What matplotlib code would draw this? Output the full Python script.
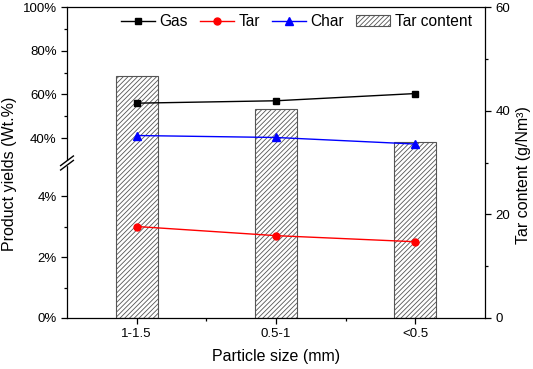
import numpy as np
import matplotlib
matplotlib.use("Agg")
import matplotlib.pyplot as plt
from matplotlib.lines import Line2D
from matplotlib.patches import Patch
from matplotlib.ticker import FixedLocator

plt.rcParams['font.family'] = ['Liberation Sans', 'DejaVu Sans']
plt.rcParams['hatch.linewidth'] = 0.6

# data
sizes = ['1-1.5', '0.5-1', '<0.5']
gas = [56.0, 57.1, 60.4]      # wt.%
char = [41.2, 40.3, 37.3]     # wt.%
tar = [3.0, 2.7, 2.5]         # wt.%
tar_content = [46.6, 40.3, 34.0]  # g/Nm3

x = np.arange(1, len(sizes) + 1)

fig = plt.figure(figsize=(5.33, 3.69), dpi=100)
W, H = 533, 369
L, R, T, B = 67, 485, 7, 318
def fa(l, r, t, b):
    return [l / W, 1 - b / H, (r - l) / W, (b - t) / H]

# main axes: bars on right axis scale
ax = fig.add_axes(fa(L, R, T, B))
ax.bar(x, tar_content, width=0.3, color='white', edgecolor='#555555',
       hatch='///////', linewidth=0.8, zorder=1)
ax.set_xlim(0.5, 3.5)
ax.set_ylim(0, 60)
ax.yaxis.tick_right()
ax.set_yticks([0, 20, 40, 60])
ax.yaxis.set_minor_locator(FixedLocator([10, 30, 50]))
ax.set_xticks(x)
ax.set_xticklabels(sizes)
ax.xaxis.set_minor_locator(FixedLocator([1.5, 2.5]))
ax.tick_params(which='both', direction='out', labelsize=9.5, width=0.9)
ax.tick_params(which='major', length=4)
ax.tick_params(which='minor', length=2.5)
ax.set_xlabel('Particle size (mm)', fontsize=11.5, labelpad=6)
for s in ax.spines.values():
    s.set_linewidth(0.9)

# upper left segment: 30-100 %
ax_top = fig.add_axes(fa(L, R, T, 160), sharex=ax)
ax_top.patch.set_visible(False)
ax_top.set_ylim(30, 100)
ax_top.plot(x, gas, '-s', color='black', lw=1, ms=5)
ax_top.plot(x, char, '-^', color='#0000ff', lw=1, ms=5.5)

# lower left segment: 0-5 %
ax_bot = fig.add_axes(fa(L, R, 165.5, B), sharex=ax)
ax_bot.patch.set_visible(False)
ax_bot.set_ylim(0, 5)
ax_bot.plot(x, tar, '-o', color='#ff0000', lw=1, ms=5)

for a, maj, mnr in [(ax_top, [40, 60, 80, 100], [50, 70, 90]),
                    (ax_bot, [0, 2, 4], [1, 3])]:
    for s in a.spines.values():
        s.set_visible(False)
    a.set_yticks(maj)
    a.set_yticklabels(['%d%%' % v for v in maj])
    a.yaxis.set_minor_locator(FixedLocator(mnr))
    a.tick_params(axis='x', which='both', bottom=False, labelbottom=False)
    a.tick_params(axis='y', which='both', direction='out', labelsize=9.5, width=0.9)
    a.tick_params(axis='y', which='major', length=4)
    a.tick_params(axis='y', which='minor', length=2.5)

# break marks on the left spine
yb = 1 - 163 / H
xl = L / W
gap = 0.006
fig.add_artist(plt.Rectangle((xl - 0.004, yb - gap), 0.008, 2 * gap,
                             transform=fig.transFigure, color='white', zorder=5))
for dy in (-gap, gap):
    fig.add_artist(Line2D([xl - 0.012, xl + 0.012], [yb + dy - 0.013, yb + dy + 0.013],
                          transform=fig.transFigure, color='black', lw=1.0, zorder=6))

fig.text(0.018, 0.53, 'Product yields (Wt.%)', rotation=90, fontsize=11.5,
         va='center', ha='center')
fig.text(523.5 / W, 0.525, 'Tar content (g/Nm³)', rotation=90, fontsize=11.5,
         va='center', ha='center')

handles = [
    Line2D([], [], color='black', marker='s', lw=1, ms=5),
    Line2D([], [], color='#ff0000', marker='o', lw=1, ms=5),
    Line2D([], [], color='#0000ff', marker='^', lw=1, ms=5.5),
    Patch(facecolor='white', edgecolor='#555555', hatch='///////', linewidth=0.8),
]
ax_top.legend(handles, ['Gas', 'Tar', 'Char', 'Tar content'], ncol=4, frameon=False,
              loc='upper left', bbox_to_anchor=(0.095, 1.045), fontsize=11.2,
              handlelength=2.2, handletextpad=0.3, columnspacing=0.75)

fig.savefig('out.png', dpi=100)
